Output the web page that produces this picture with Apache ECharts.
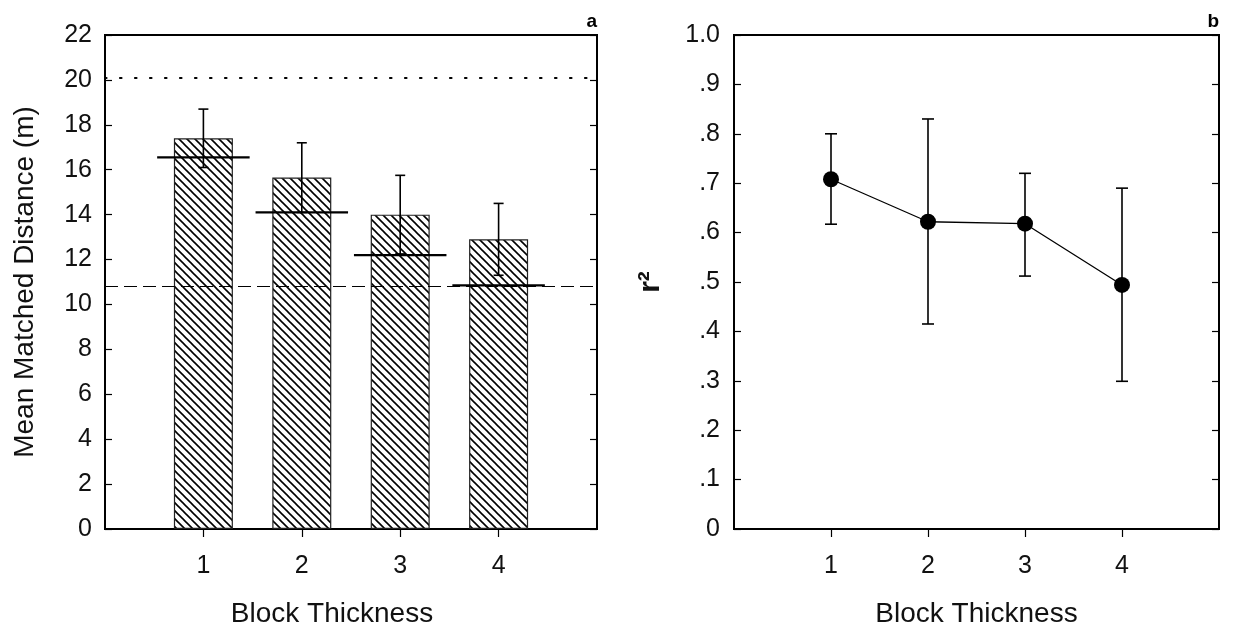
<!DOCTYPE html>
<html>
<head>
<meta charset="utf-8">
<title>Block Thickness</title>
<script src="https://cdn.jsdelivr.net/npm/echarts@6/dist/echarts.min.js"></script>
<style>
    html, body { margin: 0; padding: 0; background: #fff; }
    #chart { width: 1233px; height: 638px; }
</style>
</head>
<body>
<div id="chart"></div>
<script>
// panel a: mean matched distance (m)
var thickness = [1, 2, 3, 4];
var meanDist = [17.4, 15.65, 14.0, 12.9];
var distErr = [1.3, 1.55, 1.75, 1.6];
var predicted = [16.55, 14.1, 12.2, 10.85];
var dottedRef = 20.1;
var dashedRef = 10.8;

// panel b: r^2
var r2 = [0.708, 0.622, 0.618, 0.494];
var r2Hi = [0.80, 0.83, 0.72, 0.69];
var r2Lo = [0.617, 0.415, 0.512, 0.299];

var distTicks = [0, 22, 2];
var r2Labels = ['0', '.1', '.2', '.3', '.4', '.5', '.6', '.7', '.8', '.9', '1.0'];

var FONT = 'Liberation Sans, Arial, sans-serif';

// hatch fill like the original "\\\\" pattern
function hatch () {
    var s = 8;
    var c = document.createElement('canvas');
    c.width = s;
    c.height = s;
    var ctx = c.getContext('2d');
    ctx.fillStyle = '#fff';
    ctx.fillRect(0, 0, s, s);
    ctx.strokeStyle = '#000';
    ctx.lineWidth = 1.6;
    [-s, 0, s].forEach(function (o) {
        ctx.beginPath();
        ctx.moveTo(o - 1, -1);
        ctx.lineTo(o + s + 1, s + 1);
        ctx.stroke();
    });
    return c;
}

function errBars (xs, hi, lo, capW, gridIdx) {
    return {
        type: 'custom',
        xAxisIndex: gridIdx,
        yAxisIndex: gridIdx * 2,
        z: 3,
        data: xs.map(function (x, i) { return [x, hi[i], lo[i]]; }),
        renderItem: function (params, api) {
            var top = api.coord([api.value(0), api.value(1)]);
            var bot = api.coord([api.value(0), api.value(2)]);
            var st = { stroke: '#000', lineWidth: 1.6 };
            return {
                type: 'group',
                children: [
                    { type: 'line', shape: { x1: top[0], y1: top[1], x2: bot[0], y2: bot[1] }, style: st },
                    { type: 'line', shape: { x1: top[0] - capW, y1: top[1], x2: top[0] + capW, y2: top[1] }, style: st },
                    { type: 'line', shape: { x1: bot[0] - capW, y1: bot[1], x2: bot[0] + capW, y2: bot[1] }, style: st }
                ]
            };
        }
    };
}

function xAxisFor (gridIdx, nameShift) {
    return {
        gridIndex: gridIdx,
        type: 'value',
        min: 0,
        max: 5,
        interval: 1,
        name: 'Block Thickness',
        nameLocation: 'middle',
        nameGap: 71,
        nameTextStyle: { fontFamily: FONT, fontSize: 28, color: '#111', padding: [0, nameShift, 0, 0] },
        axisLine: { lineStyle: { color: '#000', width: 2 } },
        axisTick: { customValues: thickness, length: 8, lineStyle: { color: '#000', width: 1.2 } },
        axisLabel: { customValues: thickness, fontFamily: FONT, fontSize: 25, color: '#111', margin: 25 },
        splitLine: { show: false }
    };
}

function yAxisPair (gridIdx, min, max, interval, label) {
    var base = {
        gridIndex: gridIdx,
        type: 'value',
        min: min,
        max: max,
        interval: interval,
        axisLine: { show: true, lineStyle: { color: '#000', width: 2 } },
        axisTick: { show: true, inside: true, length: 7, lineStyle: { color: '#000', width: 1.2 } },
        splitLine: { show: false }
    };
    var left = Object.assign({}, base, label, { position: 'left' });
    var right = Object.assign({}, base, { position: 'right', axisLabel: { show: false } });
    return [left, right];
}

var chart = echarts.init(document.getElementById('chart'));

var yAxes = [].concat(
    yAxisPair(0, distTicks[0], distTicks[1], distTicks[2], {
        name: 'Mean Matched Distance (m)',
        nameLocation: 'middle',
        nameGap: 66,
        nameTextStyle: { fontFamily: FONT, fontSize: 28, color: '#111' },
        axisLabel: { fontFamily: FONT, fontSize: 25, color: '#111', margin: 13 }
    }),
    yAxisPair(1, 0, 1, 0.1, {
        name: 'r²',
        nameLocation: 'middle',
        nameGap: 68,
        nameTextStyle: { fontFamily: FONT, fontSize: 30, color: '#111', fontWeight: 'bold' },
        axisLabel: {
            fontFamily: FONT, fontSize: 25, color: '#111', margin: 14,
            formatter: function (v) { return r2Labels[Math.round(v * 10)]; }
        }
    })
);

chart.setOption({
    animation: false,
    backgroundColor: '#fff',
    grid: [
        { left: 105, top: 35, width: 492, height: 494, show: true, borderColor: '#000', borderWidth: 2 },
        { left: 734, top: 35, width: 485, height: 494, show: true, borderColor: '#000', borderWidth: 2 }
    ],
    graphic: [
        { type: 'text', x: 597, y: 22, style: { text: 'a', font: 'bold 19px ' + FONT, fill: '#000', align: 'right', verticalAlign: 'middle' } },
        { type: 'text', x: 1219, y: 22, style: { text: 'b', font: 'bold 19px ' + FONT, fill: '#000', align: 'right', verticalAlign: 'middle' } }
    ],
    xAxis: [xAxisFor(0, 38), xAxisFor(1, 0)],
    yAxis: yAxes,
    series: [
        {
            type: 'bar',
            xAxisIndex: 0,
            yAxisIndex: 0,
            barWidth: 59,
            data: thickness.map(function (x, i) { return [x, meanDist[i]]; }),
            itemStyle: {
                color: { image: hatch(), repeat: 'repeat' },
                borderColor: '#222',
                borderWidth: 1.2
            },
            markLine: {
                silent: true,
                symbol: ['none', 'none'],
                label: { show: false },
                data: [
                    { yAxis: dottedRef, lineStyle: { color: '#000', width: 2.2, type: [1.5, 13.5], cap: 'round' } },
                    { yAxis: dashedRef, lineStyle: { color: '#000', width: 1.2, type: [13, 6] } }
                ]
            }
        },
        errBars(thickness, meanDist.map(function (m, i) { return m + distErr[i]; }),
            meanDist.map(function (m, i) { return m - distErr[i]; }), 5, 0),
        {
            type: 'custom',
            xAxisIndex: 0,
            yAxisIndex: 0,
            z: 4,
            data: thickness.map(function (x, i) { return [x, predicted[i]]; }),
            renderItem: function (params, api) {
                var a = api.coord([api.value(0) - 0.47, api.value(1)]);
                var b = api.coord([api.value(0) + 0.47, api.value(1)]);
                return { type: 'line', shape: { x1: a[0], y1: a[1], x2: b[0], y2: b[1] }, style: { stroke: '#000', lineWidth: 2.2 } };
            }
        },
        errBars(thickness, r2Hi, r2Lo, 6, 1),
        {
            type: 'line',
            xAxisIndex: 1,
            yAxisIndex: 2,
            z: 5,
            data: thickness.map(function (x, i) { return [x, r2[i]]; }),
            symbol: 'circle',
            symbolSize: 16,
            itemStyle: { color: '#000' },
            lineStyle: { color: '#000', width: 1.3 }
        }
    ]
});
</script>
</body>
</html>
